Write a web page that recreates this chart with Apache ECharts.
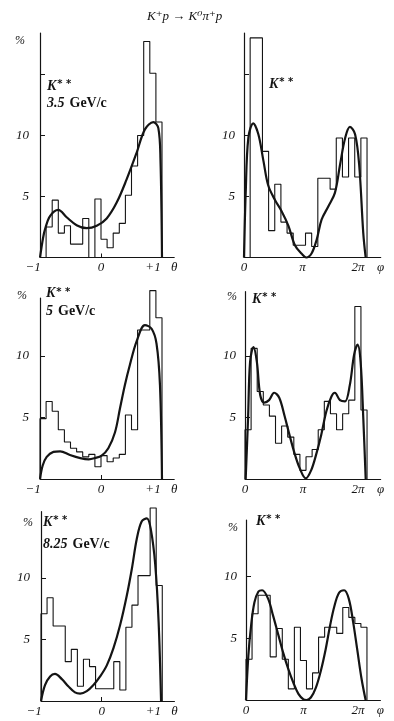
<!DOCTYPE html>
<html>
<head>
<meta charset="utf-8">
<script src="https://cdn.jsdelivr.net/npm/echarts@6.0.0/dist/echarts.min.js"></script>
<style>
  html, body { margin: 0; background: #fff; }
  #chart { width: 394px; height: 721px; }
</style>
</head>
<body>
<div id="chart"></div>
<script>
// bins: 20 per distribution, theta in [-1, 1], phi in degrees [0, 360]
const thetaLow = -1, thetaBin = 0.1;
const phiLow = 0, phiBin = 18;

// histogram heights, % per bin
const hist35Theta = [0, 2.5, 4.7, 2.0, 2.6, 1.1, 1.1, 3.2, 0, 4.8, 1.5, 0.8, 2.0, 2.8, 5.1, 7.5, 10.0, 17.7, 15.1, 11.1];
const hist35Phi = [0, 18.0, 18.0, 8.7, 2.2, 6.0, 2.9, 2.0, 1.0, 1.0, 2.0, 0.9, 6.5, 6.5, 5.6, 9.8, 6.6, 9.8, 6.6, 9.8];
const hist5Theta = [4.9, 6.3, 5.5, 4.0, 3.0, 2.5, 2.2, 1.8, 2.0, 1.0, 1.9, 1.4, 1.7, 2.0, 5.2, 4.0, 12.1, 12.1, 15.3, 13.1];
const hist5Phi = [4.0, 10.6, 7.1, 6.0, 5.1, 2.9, 4.3, 3.4, 2.0, 0.7, 1.8, 2.4, 4.0, 6.3, 5.3, 4.0, 5.3, 6.4, 14.0, 5.6];
const hist825Theta = [7.1, 8.4, 6.1, 6.1, 3.2, 4.2, 1.2, 3.4, 2.8, 1.0, 1.0, 1.0, 3.2, 0.9, 6.0, 7.8, 10.2, 10.2, 15.7, 9.4];
const hist825Phi = [3.3, 7.0, 8.5, 8.5, 3.5, 5.8, 3.3, 0.9, 5.9, 3.2, 0.9, 2.2, 5.1, 5.9, 5.9, 5.4, 7.5, 6.7, 6.2, 5.9];

// fitted curves, [x, %]
const fit35Theta = [[-1, 0], [-0.95, 1.6], [-0.918, 2.3], [-0.836, 3.4], [-0.7, 3.9], [-0.563, 3.3], [-0.4, 2.65],
  [-0.235, 2.4], [-0.07, 2.6], [0.093, 3.2], [0.257, 4.5], [0.42, 6.4], [0.585, 8.6], [0.72, 10.5], [0.858, 11.1],
  [0.94, 10.6], [0.975, 8.0], [1, 0]];
const fit35Phi = [[0, 0], [5, 5.3], [12.7, 9.8], [27, 11.0], [42, 10.1], [57, 7.9], [71, 5.9], [91, 4.7], [110, 3.8],
  [130, 2.6], [149, 1.0], [169, 0.3], [182, 0], [198, 0.35], [213, 1.5], [227, 3.1], [247, 4.2], [266, 5.3],
  [281, 7.6], [296, 9.8], [310, 10.7], [325, 10.1], [337, 7.6], [349, 2.0], [356, 0]];
const fit5Theta = [[-1, 0], [-0.956, 1.1], [-0.89, 1.8], [-0.78, 2.2], [-0.67, 2.25], [-0.51, 1.95], [-0.34, 1.7],
  [-0.2, 1.6], [-0.1, 1.7], [0.01, 1.9], [0.12, 2.5], [0.23, 3.8], [0.31, 5.7], [0.39, 7.6], [0.475, 9.3],
  [0.585, 11.2], [0.72, 12.5], [0.83, 12.2], [0.91, 11.0], [0.967, 7.6], [1, 0]];
const fit5Phi = [[2, 0], [9, 4.9], [15, 9.5], [25, 10.7], [35, 9.5], [45, 6.8], [57, 6.2], [71, 6.4], [86, 7.0],
  [101, 6.6], [116, 5.2], [131, 3.6], [146, 2.1], [161, 0.9], [179, 0.05], [195, 0.7], [210, 2.0], [225, 3.6],
  [240, 5.5], [255, 6.7], [265, 7.0], [280, 6.4], [295, 6.3], [309, 7.6], [322, 10.1], [332, 10.9], [341, 9.5],
  [349, 4.9], [356, 0]];
const fit825Theta = [[-1, 0], [-0.934, 1.3], [-0.85, 2.0], [-0.77, 2.2], [-0.66, 1.8], [-0.55, 1.2], [-0.44, 0.7],
  [-0.355, 0.6], [-0.245, 0.8], [-0.135, 1.3], [-0.025, 2.0], [0.085, 2.9], [0.195, 4.3], [0.306, 6.2],
  [0.416, 8.6], [0.5, 10.8], [0.58, 13.2], [0.66, 14.6], [0.746, 14.85], [0.81, 14.0], [0.884, 11.1],
  [0.94, 6.4], [0.98, 0]];
const fit825Phi = [[0, 0], [7, 3.6], [15, 6.0], [25, 7.9], [37, 8.8], [48, 8.9], [66, 8.2], [81, 6.8], [96, 5.3],
  [111, 3.8], [126, 2.5], [141, 1.4], [156, 0.5], [171, 0.05], [180, 0], [193, 0.2], [208, 1.0], [223, 2.4],
  [237, 4.1], [250, 6.0], [263, 7.6], [277, 8.7], [292, 8.9], [306, 8.2], [319, 6.3], [331, 4.1], [344, 1.7],
  [356, 0]];

const momenta = ['3.5', '5', '8.25'];

const ink = '#141414';
const serif = '"Liberation Serif", "DejaVu Serif", serif';

function histPoints(heights, low, width) {
  const pts = [[low, 0]];
  heights.forEach((h, i) => pts.push([+(low + i * width).toFixed(4), h]));
  pts.push([+(low + heights.length * width).toFixed(4), 0]);
  return pts;
}

const panels = [
  { kind: 'theta', hist: hist35Theta, fit: fit35Theta, grid: { left: 40, top: 33, width: 134.2, height: 224.5 },
    yMax: 18.4, yTicks: [5, 10, 15], pct: { gap: -2, pad: 15 } },
  { kind: 'phi', hist: hist35Phi, fit: fit35Phi, grid: { left: 244, top: 33, width: 136.7, height: 224.5 },
    yMax: 18.4, yTicks: [5, 10, 15], pct: null },
  { kind: 'theta', hist: hist5Theta, fit: fit5Theta, grid: { left: 40, top: 298, width: 134.2, height: 181 },
    yMax: 14.7, yTicks: [5, 10], pct: { gap: 8, pad: 13 } },
  { kind: 'phi', hist: hist5Phi, fit: fit5Phi, grid: { left: 245, top: 291.7, width: 135.6, height: 187.3 },
    yMax: 15.2, yTicks: [5, 10], pct: { gap: 1, pad: 8 } },
  { kind: 'theta', hist: hist825Theta, fit: fit825Theta, grid: { left: 41, top: 511.7, width: 133.4, height: 189.3 },
    yMax: 15.4, yTicks: [5, 10], pct: { gap: -5, pad: 8 } },
  { kind: 'phi', hist: hist825Phi, fit: fit825Phi, grid: { left: 246, top: 520, width: 134.4, height: 180 },
    yMax: 14.6, yTicks: [5, 10], pct: { gap: -2, pad: 8 } },
];

const labelStyle = { fontFamily: serif, fontStyle: 'italic', fontSize: 13, color: ink };

const xLabels = {
  theta: {
    values: [-1, 0, 1, 1.2],
    text: (v) => (v === -1 ? '{a|\u22121}' : v === 0 ? '0' : v === 1 ? '{b|+1}' : 'θ'),
    ticks: [0],
  },
  phi: {
    values: [0, 180, 360, 400],
    text: (v) => (v === 0 ? '0' : v === 180 ? '{p|π}' : v === 360 ? '{b|2π}' : 'φ'),
    ticks: [],
  },
};

const grids = [], xAxes = [], yAxes = [], series = [];
panels.forEach((p, i) => {
  grids.push(p.grid);
  const xl = xLabels[p.kind];
  xAxes.push({
    type: 'value', gridIndex: i,
    min: p.kind === 'theta' ? -1 : 0,
    max: p.kind === 'theta' ? 1.2 : 400,
    axisLine: { onZero: false, lineStyle: { color: ink, width: 1.2 } },
    axisTick: { show: xl.ticks.length > 0, inside: true, length: 4, customValues: xl.ticks, lineStyle: { color: ink } },
    splitLine: { show: false },
    axisLabel: Object.assign({}, labelStyle, {
      margin: 4, customValues: xl.values, formatter: xl.text,
      rich: {
        a: Object.assign({}, labelStyle, { padding: [0, 14, 0, 0] }),
        b: Object.assign({}, labelStyle, { padding: [0, 18, 0, 0] }),
        p: Object.assign({}, labelStyle, { padding: [0, 6, 0, 0] }),
      },
    }),
  });
  yAxes.push({
    type: 'value', gridIndex: i, min: 0, max: p.yMax,
    axisLine: { show: true, onZero: false, lineStyle: { color: ink, width: 1.2 } },
    axisTick: { show: true, inside: true, length: 5, customValues: p.yTicks, lineStyle: { color: ink } },
    splitLine: { show: false },
    axisLabel: Object.assign({}, labelStyle, { margin: i % 2 === 0 ? 11 : 9, customValues: [5, 10] }),
    name: p.pct ? '%' : '',
    nameLocation: 'end',
    nameGap: p.pct ? p.pct.gap : 0,
    nameTextStyle: Object.assign({}, labelStyle, {
      fontSize: 12, align: 'right', verticalAlign: 'top',
      padding: p.pct ? [0, p.pct.pad, 0, 0] : 0,
    }),
  });
  const low = p.kind === 'theta' ? thetaLow : phiLow;
  const width = p.kind === 'theta' ? thetaBin : phiBin;
  series.push({
    type: 'line', xAxisIndex: i, yAxisIndex: i, step: 'end', symbol: 'none', clip: false,
    data: histPoints(p.hist, low, width),
    lineStyle: { color: ink, width: 1.1 },
  });
  series.push({
    type: 'line', xAxisIndex: i, yAxisIndex: i, smooth: 0.35, symbol: 'none', clip: false,
    data: p.fit,
    lineStyle: { color: ink, width: 2.2 },
  });
});

const kRich = {
  k: { fontFamily: serif, fontStyle: 'italic', fontSize: 14, color: ink },
  s: { fontFamily: '"DejaVu Sans", sans-serif', fontSize: 10, color: ink, padding: [0, 0, 3, 1] },
  e: { fontFamily: serif, fontStyle: 'italic', fontSize: 14, color: ink },
  g: { fontFamily: serif, fontWeight: 'bold', fontSize: 14, color: ink },
};

function tag(left, top, momentum, lineHeight) {
  const text = momentum ? '{k|K}{s|* *}\n{e|' + momentum + '} {g|GeV/c}' : '{k|K}{s|* *}';
  return { left, top, padding: 0, text,
    textStyle: { rich: Object.assign({}, kRich, {
      k: Object.assign({}, kRich.k, { lineHeight }),
      e: Object.assign({}, kRich.e, { lineHeight }),
      g: Object.assign({}, kRich.g, { lineHeight }),
    }) } };
}

const titles = [
  { left: 147, top: 10, padding: 0, text: 'K\u207Ap \u2192 K\u2070\u03C0\u207Ap',
    textStyle: { fontFamily: serif, fontStyle: 'italic', fontWeight: 'normal', fontSize: 13, color: ink } },
  tag(47, 78, momenta[0], 16),
  tag(269, 76, null, 16),
  tag(46, 285, momenta[1], 17),
  tag(252, 291, null, 16),
  tag(43, 511, momenta[2], 22),
  tag(256, 513, null, 16),
];

const chart = echarts.init(document.getElementById('chart'), null, { renderer: 'canvas' });
chart.setOption({
  animation: false,
  backgroundColor: '#fff',
  title: titles,
  grid: grids,
  xAxis: xAxes,
  yAxis: yAxes,
  series,
});
</script>
</body>
</html>
